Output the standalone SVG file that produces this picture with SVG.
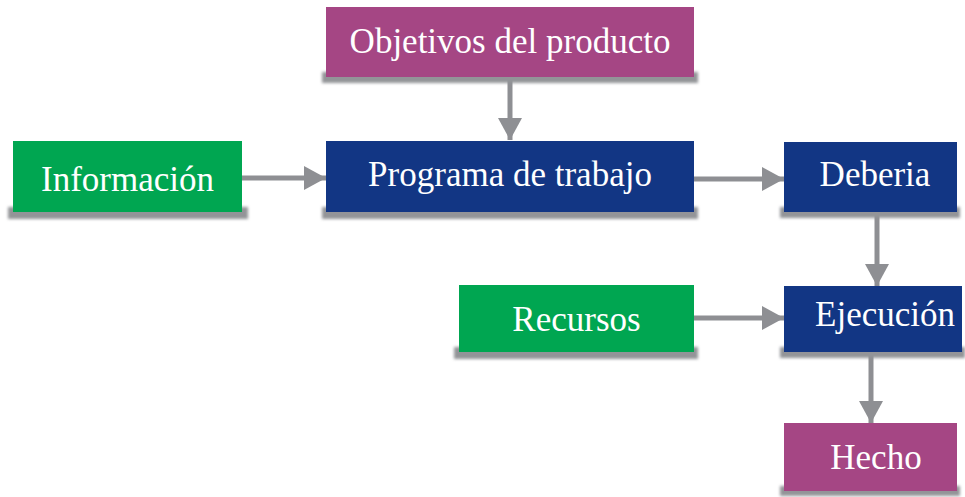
<svg xmlns="http://www.w3.org/2000/svg" width="965" height="497" viewBox="0 0 965 497">
<defs>
<filter id="sh" x="-10%" y="-30%" width="120%" height="160%"><feGaussianBlur stdDeviation="1.5"/></filter>
<marker id="ah" markerWidth="26" markerHeight="26" viewBox="0 0 26 26" refX="24" refY="13" orient="auto" markerUnits="userSpaceOnUse"><path d="M2,1 L24,13 L2,25 Z" fill="#8e8f93"/></marker>
</defs>
<style>
.pur{fill:#a54684}.blu{fill:#123684}.grn{fill:#00a651}
.sh{fill:#939498;filter:url(#sh)}
text{font-family:"Liberation Serif","Times New Roman",serif;font-size:35px;fill:#ffffff;text-anchor:middle}
.c line{stroke:#8e8f93;stroke-width:5;marker-end:url(#ah)}
</style>
<rect width="965" height="497" fill="#ffffff"/>
<g class="c" id="connectors">
<line x1="510" y1="80" x2="510" y2="140"/>
<line x1="242" y1="178" x2="326" y2="178"/>
<line x1="694" y1="179" x2="784" y2="179"/>
<line x1="877" y1="212" x2="877" y2="286"/>
<line x1="694" y1="318" x2="784" y2="318"/>
<line x1="871" y1="352" x2="871" y2="423"/>
</g>
<g id="objetivos"><rect class="sh" x="322" y="72" width="376" height="11"/><rect class="pur" x="326" y="7" width="368" height="70"/><text x="510" y="53">Objetivos del producto</text></g>
<g id="programa"><rect class="sh" x="322" y="207" width="376" height="12"/><rect class="blu" x="326" y="141" width="368" height="71"/><text x="510" y="186">Programa de trabajo</text></g>
<g id="informacion"><rect class="sh" x="8" y="207" width="240" height="12"/><rect class="grn" x="13" y="141" width="229" height="71"/><text x="127.5" y="191">Información</text></g>
<g id="deberia"><rect class="sh" x="780" y="207" width="180" height="11"/><rect class="blu" x="784" y="142" width="173" height="70"/><text x="875" y="186">Deberia</text></g>
<g id="recursos"><rect class="sh" x="454" y="347" width="244" height="12"/><rect class="grn" x="459" y="285" width="235" height="67"/><text x="576.5" y="331">Recursos</text></g>
<g id="ejecucion"><rect class="sh" x="780" y="347" width="185" height="11"/><rect class="blu" x="784" y="286" width="178" height="66"/><text x="885" y="326">Ejecución</text></g>
<g id="hecho"><rect class="sh" x="780" y="486" width="180" height="10"/><rect class="pur" x="784" y="423" width="173" height="68"/><text x="876" y="469">Hecho</text></g>
</svg>
